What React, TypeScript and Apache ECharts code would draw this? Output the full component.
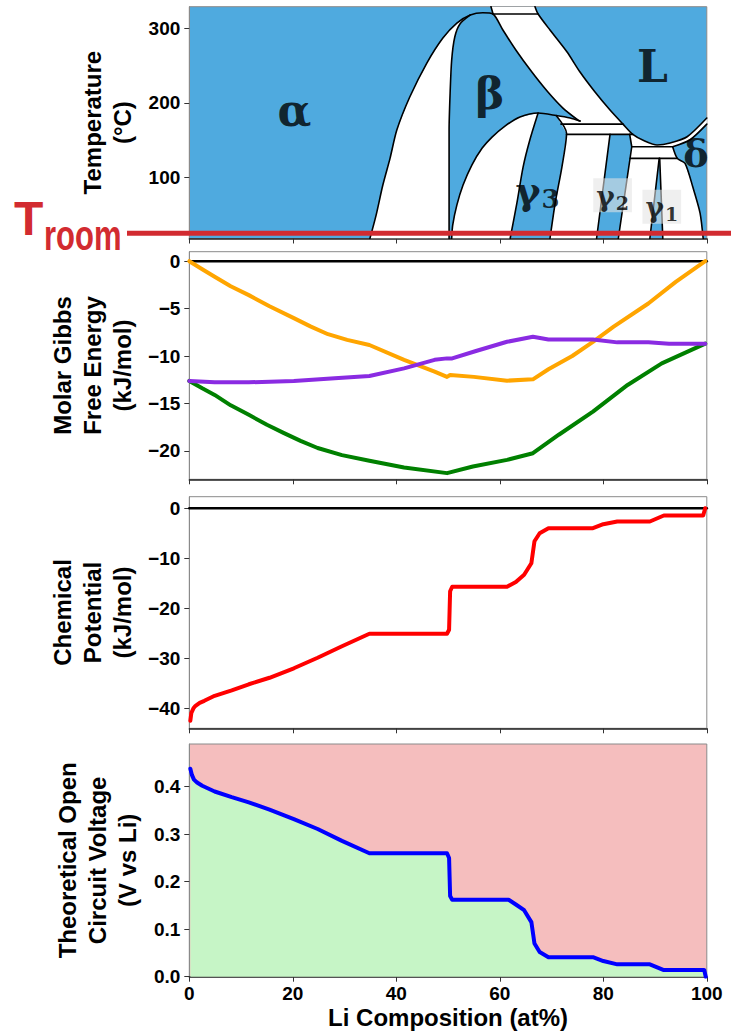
import React, { useEffect, useRef } from 'react';
import * as echarts from 'echarts';

const FONT = '"Liberation Sans", Arial, Helvetica, sans-serif';
const SERIF = '"DejaVu Serif", "Liberation Serif", serif';

// ---------- Panel 1: phase diagram (x: Li at%, y: °C) ----------
const tempRange = [18, 329];
const roomTemp = 25;
const tempTicks = [100, 200, 300];

const lensRegion = [[34.9,18],[36.1,49.4],[37.4,89.7],[38.8,125.9],[40.1,163.5],[42.6,207.8],[45.9,253.4],[49.0,287.0],[51.7,307.1],[54.3,317.9],[52.3,305.8],[51.3,288.3],[50.7,257.4],[50.4,213.2],[50.2,163.5],[50.2,18]];
const domeRegion = [[50.7,18],[50.9,36.0],[51.7,62.8],[52.9,89.7],[54.6,116.5],[56.6,139.3],[58.5,154.1],[61.0,168.9],[63.9,180.9],[67.4,186.3],[65.8,150.1],[64.5,113.8],[63.3,65.5],[62.0,18]];
const mainRegion = [[58.3,329],[66.8,329],[67.4,319.2],[69.7,297.7],[73.0,268.2],[75.5,241.3],[78.4,214.5],[81.3,190.3],[83.8,171.5],[85.7,157.7],[88.0,148.7],[90.4,143.4],[92.9,146.1],[96.2,154.5],[100,179.6],[100,171.5],[96.7,150.1],[93.4,141.1],[94.3,125.5],[95.8,118.8],[97.3,87.0],[98.7,52.1],[99.3,18],[91.5,18],[90.9,125.5],[90.8,125.5],[89.0,18],[82.9,18],[85.5,141.1],[85.1,157.7],[81.3,157.7],[78.7,18],[69.7,18],[70.7,65.5],[72.0,113.8],[72.9,159.1],[70.9,183.0],[73.6,179.6],[75.5,175.6],[72.2,193.0],[69.3,214.5],[66.2,241.3],[63.1,270.9],[60.6,297.7],[58.7,319.2]];
const twoPhaseRegions = [lensRegion, domeRegion, mainRegion];

const lensLeftLine = [[34.9,18],[36.1,49.4],[37.4,89.7],[38.8,125.9],[40.1,163.5],[42.6,207.8],[45.9,253.4],[49.0,287.0],[51.7,307.1],[54.3,317.9],[56.7,320.9],[58.7,319.2],[60.6,297.7],[63.1,270.9],[66.2,241.3],[69.3,214.5],[72.2,193.0],[75.1,176.9],[75.5,175.6]];
const lensRightLine = [[54.3,317.9],[52.3,305.8],[51.3,288.3],[50.7,257.4],[50.4,213.2],[50.2,163.5],[50.2,18]];
const bandTopEdge = [[58.3,329],[58.7,319.2]];
const bandIsotherm = [[58.7,319.2],[67.4,319.2]];
const liquidusLine = [[66.8,329],[67.4,319.2],[69.7,297.7],[73.0,268.2],[75.5,241.3],[78.4,214.5],[81.3,190.3],[83.8,171.5],[85.7,157.7],[88.0,148.7],[90.4,143.4],[92.9,146.1],[96.2,154.5],[100,179.6]];
const domeLine = [[50.7,18],[50.9,36.0],[51.7,62.8],[52.9,89.7],[54.6,116.5],[56.6,139.3],[58.5,154.1],[61.0,168.9],[63.9,180.9],[67.4,186.3],[70.9,183.0],[73.6,179.6],[75.5,175.6]];
const gamma3LeftLine = [[67.4,186.3],[65.8,150.1],[64.5,113.8],[63.3,65.5],[62.0,18]];
const gamma3RightLine = [[70.9,183.0],[72.9,159.1],[72.0,113.8],[70.7,65.5],[69.7,18]];
const strip1Top = [[71.8,171.5],[83.8,171.5]];
const strip1Bottom = [[72.9,157.7],[85.7,157.7]];
const gamma2LeftLine = [[81.3,157.7],[78.7,18]];
const gamma2RightLine = [[85.1,157.7],[85.5,141.1],[82.9,18]];
const strip2Top = [[85.5,141.1],[93.4,141.1]];
const strip2Bottom = [[85.2,125.5],[94.3,125.5]];
const gamma1LeftLine = [[90.8,125.5],[89.0,18]];
const gamma1RightLine = [[90.9,125.5],[91.5,18]];
const deltaLine = [[93.4,141.1],[94.3,125.5],[95.8,118.8],[97.3,87.0],[98.7,52.1],[99.3,18]];
const deltaLiquidLine = [[93.4,141.1],[96.7,150.1],[100,171.5]];
const curvedLines = [lensLeftLine, lensRightLine, liquidusLine, domeLine, gamma3LeftLine, gamma3RightLine, deltaLine, deltaLiquidLine];
const straightLines = [bandTopEdge, bandIsotherm, strip1Top, strip1Bottom, gamma2LeftLine, gamma2RightLine, strip2Top, strip2Bottom, gamma1LeftLine, gamma1RightLine];

const phaseNames = ['α', 'β', 'L', 'γ3', 'γ2', 'γ1', 'δ'];
const phaseX = [20.3, 58.1, 89.5, 67.3, 81.8, 91.3, 97.9];
const phaseY = [190, 213, 249, 83, 76, 60.5, 132];

// ---------- Panel 2: molar Gibbs free energy (kJ/mol) ----------
const gibbsRange = [-23, 1];
const gibbsTicks = [-20, -15, -10, -5, 0];
const gibbsOrange = [[0,0],[2.5,-0.85],[4.9,-1.65],[8,-2.65],[11.5,-3.58],[15.5,-4.75],[20.2,-6.0],[23.5,-6.9],[26.8,-7.7],[30.5,-8.3],[34.8,-8.84],[41.5,-10.4],[47.4,-11.65],[49.8,-12.2],[50.4,-12.0],[55,-12.2],[61.4,-12.6],[66.4,-12.46],[69.4,-11.4],[74,-10.0],[78.0,-8.5],[82.0,-6.9],[88.7,-4.46],[94.0,-2.18],[99.7,0]];
const gibbsPurple = [[0,-12.63],[4.9,-12.77],[11.5,-12.77],[20.2,-12.63],[28.1,-12.35],[34.8,-12.1],[41.5,-11.3],[47.4,-10.4],[49.8,-10.25],[50.8,-10.25],[55.4,-9.47],[61.4,-8.5],[66.4,-7.96],[69.4,-8.25],[78,-8.25],[82.7,-8.56],[88.7,-8.56],[92.7,-8.7],[99.7,-8.7]];
const gibbsGreen = [[0,-12.63],[2.5,-13.4],[4.9,-14.1],[8,-15.2],[11.5,-16.2],[15,-17.25],[18.2,-18.1],[21.5,-18.95],[24.8,-19.7],[29.5,-20.45],[34.8,-21.05],[41.5,-21.75],[49.8,-22.35],[54.8,-21.65],[61.4,-20.95],[66.4,-20.25],[71.4,-18.3],[78,-15.86],[84.7,-13.05],[91.3,-10.77],[99.7,-8.7]];

// ---------- Panel 3: chemical potential (kJ/mol) ----------
const muRange = [-44, 2.3];
const muTicks = [-40, -30, -20, -10, 0];
const chemPotential = [[0.2,-42.5],[0.4,-40.9],[0.8,-40.0],[1.2,-39.5],[2.0,-38.9],[2.9,-38.5],[4.9,-37.5],[8.2,-36.4],[11.5,-35.2],[15.5,-33.9],[20.2,-32.0],[24.8,-29.9],[29.5,-27.6],[34.8,-25.1],[49.8,-25.1],[50.2,-24.3],[50.4,-16.6],[50.8,-15.7],[61.4,-15.7],[63.1,-14.75],[64.7,-13.3],[66.1,-11.0],[66.7,-6.6],[67.7,-5.0],[69.4,-4.0],[78.0,-4.0],[80.0,-3.2],[82.7,-2.66],[89.0,-2.66],[91.7,-1.46],[99.3,-1.46],[99.7,0]];

// ---------- Panel 4: theoretical open circuit voltage (V vs Li) ----------
const voltRange = [0, 0.49];
const voltTicks = [0, 0.1, 0.2, 0.3, 0.4];
const voltage = [[0.2,0.438],[0.5,0.425],[0.9,0.415],[1.5,0.409],[2.5,0.402],[4.9,0.39],[8.2,0.378],[11.5,0.367],[15.5,0.352],[20.2,0.332],[24.8,0.311],[29.5,0.286],[34.8,0.26],[49.8,0.26],[50.2,0.25],[50.4,0.17],[50.8,0.162],[61.7,0.162],[63.1,0.152],[64.7,0.14],[66.1,0.115],[66.7,0.07],[67.7,0.052],[69.4,0.041],[78.0,0.041],[80,0.033],[82.7,0.026],[89.0,0.026],[91.7,0.014],[99.5,0.014],[99.8,0.0]];

const zeroLine = [[0, 0], [100, 0]];

const gridTops = [6.7, 251.7, 496.7, 744];
const gridHeights = [231.8, 227.6, 231.6, 232.7];

const fmtNum = (v: number) => (v < 0 ? '\u2212' + Math.abs(v) : String(v));

export default function App() {
  const ref = useRef<HTMLDivElement>(null);
  useEffect(() => {
    if (!ref.current) return;
    const chart = echarts.init(ref.current, undefined, { renderer: 'svg' });

    const grids = gridTops.map((top, i) => ({
      left: 189.3,
      width: 517.5,
      top,
      height: gridHeights[i],
      show: true,
      borderColor: '#8a8a8a',
      borderWidth: 1,
      backgroundColor: i === 0 ? '#4FAADF' : i === 3 ? '#F5BEBE' : '#ffffff',
    }));

    const xAxes = gridTops.map((_, i) => ({
      type: 'value',
      gridIndex: i,
      min: 0,
      max: 100,
      interval: 20,
      axisLine: { show: true, onZero: false, lineStyle: { color: '#222', width: 1.5 } },
      axisTick: { show: true, inside: false, length: 5, lineStyle: { color: '#333', width: 1 } },
      axisLabel: { show: i === 3, fontSize: 19, fontWeight: 'bold', color: '#000', margin: 7, fontFamily: FONT },
      splitLine: { show: false },
      name: i === 3 ? 'Li Composition (at%)' : '',
      nameLocation: 'middle',
      nameGap: 29,
      nameTextStyle: { fontSize: 24, fontWeight: 'bold', color: '#000', fontFamily: FONT },
    }));

    const yDefs = [
      { range: tempRange, ticks: tempTicks, name: 'Temperature\n(°C)', gap: 47, fmt: (v: number) => String(v) },
      { range: gibbsRange, ticks: gibbsTicks, name: 'Molar Gibbs\nFree Energy\n(kJ/mol)', gap: 47, fmt: fmtNum },
      { range: muRange, ticks: muTicks, name: 'Chemical\nPotential\n(kJ/mol)', gap: 47, fmt: fmtNum },
      { range: voltRange, ticks: voltTicks, name: 'Theoretical Open\nCircuit Voltage\n(V vs Li)', gap: 43, fmt: (v: number) => v.toFixed(1) },
    ];
    const yAxes = yDefs.map((d, i) => ({
      type: 'value',
      gridIndex: i,
      min: d.range[0],
      max: d.range[1],
      axisLine: { show: true, onZero: false, lineStyle: { color: '#8a8a8a', width: 1 } },
      axisTick: { show: true, inside: false, length: 5, customValues: d.ticks, lineStyle: { color: '#333', width: 1 } },
      axisLabel: { show: true, customValues: d.ticks, formatter: d.fmt, fontSize: 19, fontWeight: 'bold', color: '#000', margin: 9, fontFamily: FONT },
      splitLine: { show: false },
      name: d.name,
      nameLocation: 'middle',
      nameRotate: 90,
      nameGap: d.gap,
      nameTextStyle: { fontSize: 24, fontWeight: 'bold', color: '#000', fontFamily: FONT, lineHeight: 30, align: 'center' },
    }));

    const lineSeries = (data: number[][], idx: number, color: string, width: number, z = 3, smooth: number | boolean = false) => ({
      type: 'line',
      xAxisIndex: idx,
      yAxisIndex: idx,
      data,
      symbol: 'none',
      showSymbol: false,
      silent: true,
      smooth,
      z,
      lineStyle: { color, width, cap: 'round', join: 'round' },
    });

    const labelRich = {
      big: { fontSize: 44, fontWeight: 'bold', fontFamily: SERIF, color: '#000' },
      g3: { fontSize: 38, fontWeight: 'bold', fontFamily: SERIF, color: '#000' },
      s3: { fontSize: 26, fontWeight: 'bold', fontFamily: SERIF, color: '#000', padding: [18, 0, 0, 1] },
      g: { fontSize: 28, fontWeight: 'bold', fontFamily: SERIF, color: '#000' },
      s: { fontSize: 19, fontWeight: 'bold', fontFamily: SERIF, color: '#000', padding: [13, 0, 0, 1] },
      d: { fontSize: 38, fontWeight: 'bold', fontFamily: SERIF, color: '#000' },
    };
    const labelText = (n: string) => {
      if (n === 'γ3') return '{g3|γ}{s3|3}';
      if (n === 'γ2') return '{g|γ}{s|2}';
      if (n === 'γ1') return '{g|γ}{s|1}';
      if (n === 'δ') return '{d|δ}';
      return '{big|' + n + '}';
    };

    const series: any[] = [
      {
        type: 'custom',
        xAxisIndex: 0,
        yAxisIndex: 0,
        silent: true,
        z: 2,
        clip: true,
        data: twoPhaseRegions.map((_, i) => [i, 100]),
        renderItem: (params: any, api: any) => {
          const idx = api.value(0);
          const pts = twoPhaseRegions[idx].map((p) => api.coord(p));
          return { type: 'polygon', shape: { points: pts }, style: { fill: '#ffffff', stroke: null } };
        },
      },
      ...curvedLines.map((pts) => lineSeries(pts, 0, '#000', 1.6, 3, 0.25)),
      ...straightLines.map((pts) => lineSeries(pts, 0, '#000', 1.6, 3)),
      {
        type: 'scatter',
        xAxisIndex: 0,
        yAxisIndex: 0,
        symbolSize: 0,
        silent: true,
        z: 5,
        data: phaseNames.map((n, i) => {
          const boxed = n === 'γ2' || n === 'γ1';
          return {
            value: [phaseX[i], phaseY[i]],
            label: {
              show: true,
              position: 'inside',
              formatter: labelText(n),
              rich: labelRich,
              backgroundColor: boxed ? 'rgba(228,228,228,0.72)' : 'transparent',
              padding: boxed ? [2, 3, 0, 3] : 0,
            },
          };
        }),
      },
      lineSeries(zeroLine, 1, '#000', 2.5, 2),
      lineSeries(gibbsOrange, 1, '#FFA500', 4),
      lineSeries(gibbsGreen, 1, '#008000', 4),
      lineSeries(gibbsPurple, 1, '#8A2BE2', 4),
      lineSeries(zeroLine, 2, '#000', 2.5, 2),
      lineSeries(chemPotential, 2, '#FF0000', 4),
      {
        ...lineSeries(voltage, 3, '#0000FF', 4),
        areaStyle: { color: '#C6F5C6', opacity: 1, origin: 'start' },
      },
    ];

    chart.setOption({
      animation: false,
      textStyle: { fontFamily: FONT },
      grid: grids,
      xAxis: xAxes,
      yAxis: yAxes,
      series,
    });

    const yRoom = chart.convertToPixel({ xAxisIndex: 0, yAxisIndex: 0 }, [0, roomTemp])[1];
    chart.setOption({
      graphic: [
        {
          type: 'line',
          z: 100,
          shape: { x1: 127, y1: yRoom, x2: 731, y2: yRoom },
          style: { stroke: '#D22B30', lineWidth: 5 },
        },
        {
          type: 'text',
          z: 100,
          x: 14,
          y: yRoom + 9,
          style: { text: 'T', fontSize: 48, fontWeight: 'bold', fontFamily: FONT, fill: '#D22B30', verticalAlign: 'bottom' },
        },
        {
          type: 'text',
          z: 100,
          x: 44,
          y: yRoom + 23,
          scaleY: 1.4,
          style: { text: 'room', fontSize: 31, fontWeight: 'bold', fontFamily: FONT, fill: '#D22B30', verticalAlign: 'bottom' },
        },
      ],
    });

    return () => chart.dispose();
  }, []);

  return (
    <div
      ref={ref}
      style={{ position: 'absolute', left: 0, top: 0, width: 731, height: 1033, background: '#fff' }}
    />
  );
}
